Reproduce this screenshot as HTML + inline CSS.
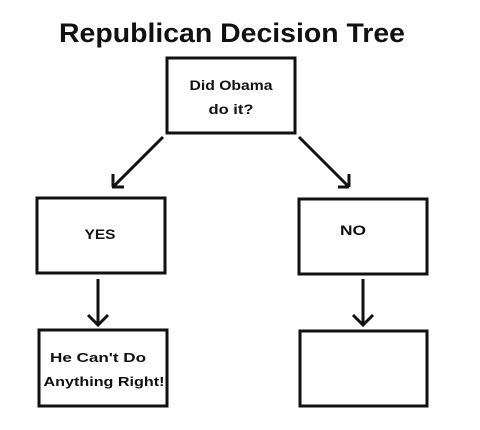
<!DOCTYPE html>
<html><head><style>
html,body{margin:0;padding:0;background:#fff;}
svg{display:block;}
text{font-family:"Liberation Sans",sans-serif;font-weight:bold;fill:#111;}
</style></head><body>
<svg width="480" height="430" viewBox="0 0 480 430">
<text x="232" y="42" font-size="27" text-anchor="middle" textLength="346" lengthAdjust="spacingAndGlyphs">Republican Decision Tree</text>
<g fill="none" stroke="#111" stroke-width="3">
<rect x="167" y="58" width="128" height="75"/>
<rect x="37" y="198" width="128" height="75"/>
<rect x="299" y="199" width="128" height="75"/>
<rect x="39" y="330" width="128" height="76"/>
<rect x="300" y="331" width="127" height="75"/>
<path d="M163 137 L113 187 M113 187 L113 174 M112 187 L124 187"/>
<path d="M299 137 L349 187 M349 187 L349 174 M349 187 L338 187"/>
<path d="M98 279 L98 324 M88 315 L98 325 L108 315"/>
<path d="M363 279 L363 324 M353 315 L363 325 L373 315"/>
</g>
<text x="231" y="90" font-size="14" text-anchor="middle" textLength="83" lengthAdjust="spacingAndGlyphs">Did Obama</text>
<text x="231" y="114" font-size="14" text-anchor="middle" textLength="45" lengthAdjust="spacingAndGlyphs">do it?</text>
<text x="100" y="239" font-size="14" text-anchor="middle" textLength="31" lengthAdjust="spacingAndGlyphs">YES</text>
<text x="353" y="235" font-size="14" text-anchor="middle" textLength="26" lengthAdjust="spacingAndGlyphs">NO</text>
<text x="98" y="362" font-size="13" text-anchor="middle" textLength="96" lengthAdjust="spacingAndGlyphs">He Can't Do</text>
<text x="104" y="386" font-size="13" text-anchor="middle" textLength="121" lengthAdjust="spacingAndGlyphs">Anything Right!</text>
</svg>
</body></html>
